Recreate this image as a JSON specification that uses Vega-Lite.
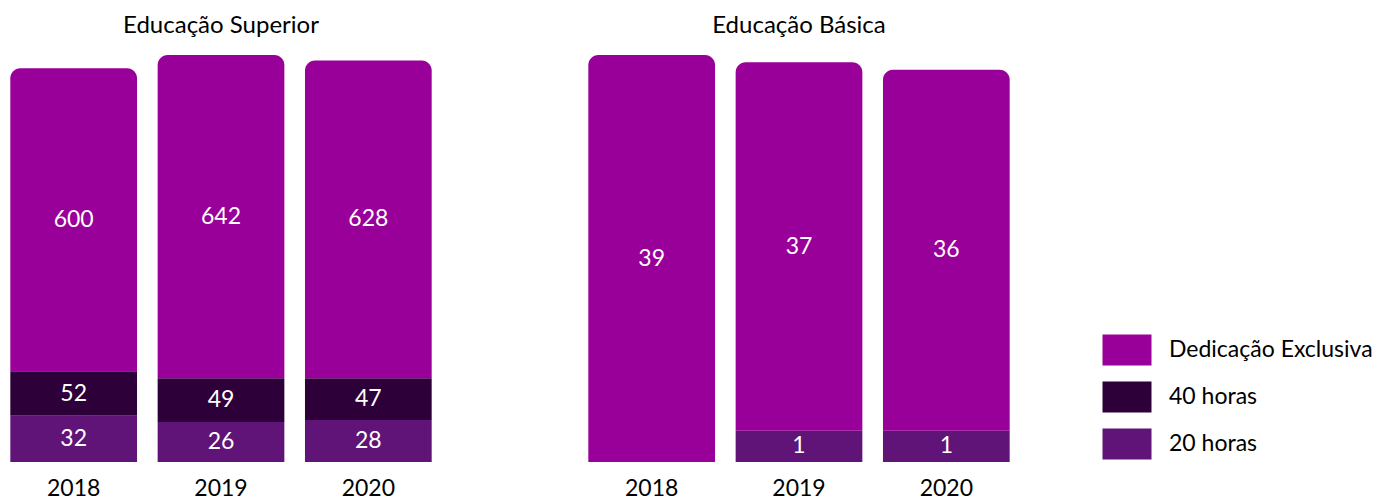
{
  "$schema": "https://vega.github.io/schema/vega-lite/v6.json",
  "padding": {"left": 0, "top": 14, "right": 0, "bottom": 0},
  "background": "white",
  "data": {"values": [
    {"panel": "Educação Superior", "year": "2018", "type": "Dedicação Exclusiva", "value": 600},
    {"panel": "Educação Superior", "year": "2018", "type": "40 horas", "value": 52},
    {"panel": "Educação Superior", "year": "2018", "type": "20 horas", "value": 32},
    {"panel": "Educação Superior", "year": "2019", "type": "Dedicação Exclusiva", "value": 642},
    {"panel": "Educação Superior", "year": "2019", "type": "40 horas", "value": 49},
    {"panel": "Educação Superior", "year": "2019", "type": "20 horas", "value": 26},
    {"panel": "Educação Superior", "year": "2020", "type": "Dedicação Exclusiva", "value": 628},
    {"panel": "Educação Superior", "year": "2020", "type": "40 horas", "value": 47},
    {"panel": "Educação Superior", "year": "2020", "type": "20 horas", "value": 28},
    {"panel": "Educação Básica", "year": "2018", "type": "Dedicação Exclusiva", "value": 39},
    {"panel": "Educação Básica", "year": "2019", "type": "Dedicação Exclusiva", "value": 37},
    {"panel": "Educação Básica", "year": "2019", "type": "20 horas", "value": 1},
    {"panel": "Educação Básica", "year": "2020", "type": "Dedicação Exclusiva", "value": 36},
    {"panel": "Educação Básica", "year": "2020", "type": "20 horas", "value": 1}
  ]},
  "transform": [
    {"stack": "value", "groupby": ["panel", "year"], "sort": [{"field": "type", "order": "ascending"}], "as": ["v0", "v1"]},
    {"calculate": "pow((pow(datum.v0, 0.7) + pow(datum.v1, 0.7)) / 2, 1 / 0.7)", "as": "mid"}
  ],
  "facet": {
    "column": {
      "field": "panel",
      "sort": ["Educação Superior", "Educação Básica"],
      "title": null,
      "header": {"labelFont": "Lato", "labelFontSize": 24, "labelColor": "black", "labelPadding": 17}
    }
  },
  "spacing": 136,
  "resolve": {"scale": {"y": "independent"}},
  "spec": {
    "width": 442,
    "height": 407,
    "encoding": {
      "x": {
        "field": "year", "type": "ordinal",
        "scale": {"paddingInner": 0.14, "paddingOuter": 0.07},
        "axis": {"title": null, "domain": false, "ticks": false, "labelAngle": 0, "labelFont": "Lato", "labelFontSize": 23, "labelColor": "black", "labelPadding": 15}
      }
    },
    "layer": [
      {
        "transform": [{"filter": "datum.type != 'Dedicação Exclusiva'"}],
        "mark": {"type": "bar"},
        "encoding": {
          "y": {"field": "v0", "type": "quantitative", "scale": {"type": "pow", "exponent": 0.7, "nice": false, "zero": true}, "axis": null},
          "y2": {"field": "v1"},
          "color": {
            "field": "type", "type": "nominal",
            "scale": {"domain": ["Dedicação Exclusiva", "40 horas", "20 horas"], "range": ["#990099", "#2E003A", "#601478"]},
            "legend": {"title": null}
          }
        }
      },
      {
        "transform": [{"filter": "datum.type == 'Dedicação Exclusiva'"}],
        "mark": {"type": "bar", "cornerRadiusTopLeft": 10, "cornerRadiusTopRight": 10},
        "encoding": {
          "y": {"field": "v0", "type": "quantitative", "axis": null},
          "y2": {"field": "v1"},
          "color": {"field": "type", "type": "nominal"}
        }
      },
      {
        "mark": {"type": "text", "color": "white", "font": "Lato", "fontSize": 23, "baseline": "middle", "align": "center"},
        "encoding": {
          "y": {"field": "mid", "type": "quantitative", "axis": null},
          "text": {"field": "value", "type": "quantitative"}
        }
      }
    ]
  },
  "config": {
    "view": {"stroke": null},
    "legend": {
      "orient": "none", "legendX": 1104, "legendY": 272,
      "symbolType": "M-1.065,-0.674H1.065V0.674H-1.065Z",
      "symbolSize": 2116, "symbolStrokeWidth": 0, "symbolOpacity": 1,
      "labelFont": "Lato", "labelFontSize": 23, "labelColor": "black", "labelLimit": 400,
      "labelOffset": 19, "rowPadding": 8, "padding": 0
    }
  }
}
